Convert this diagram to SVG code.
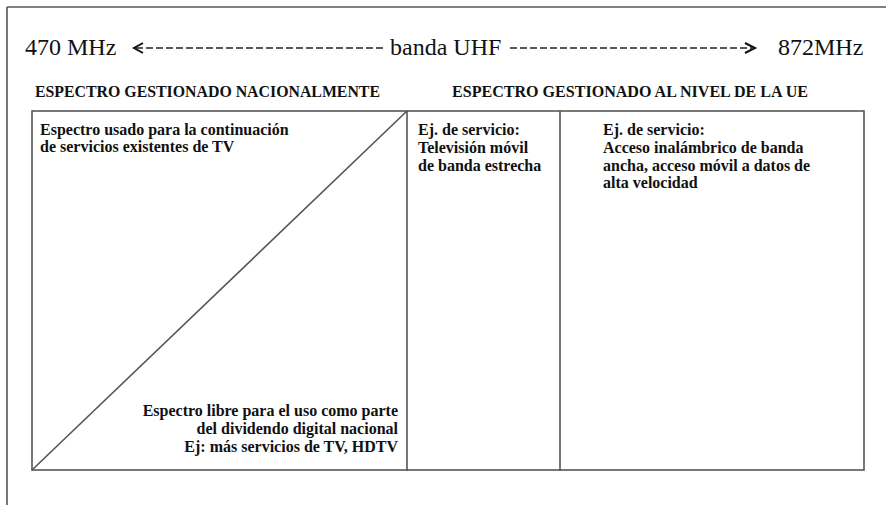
<svg xmlns="http://www.w3.org/2000/svg" width="886" height="505" viewBox="0 0 886 505">
<defs>
<style>
text{font-family:'Liberation Serif','DejaVu Serif',serif;fill:#111;}
.big{font-size:24px;}
.b{font-size:16px;font-weight:bold;}
.ln{stroke:#555;stroke-width:1.6;fill:none;}
.dash{stroke:#222;stroke-width:1.6;stroke-dasharray:7 3;fill:none;}
.head{stroke:#111;stroke-width:2;fill:none;}
</style>
</defs>
<rect x="0" y="0" width="886" height="505" fill="#fff"/>
<g id="frame">
<path class="ln" d="M7,7 H886 M7,7 V505" stroke="#777"/>
</g>
<g id="band" font-family="Liberation Serif, serif">
<text class="big" x="25" y="55">470 MHz</text>
<text class="big" x="390" y="55">banda UHF</text>
<text class="big" x="778" y="55">872MHz</text>
</g>
<g id="connectors">
<path class="dash" d="M136,48 H386"/>
<path class="head" d="M143,43 L134,48 L143,53"/>
<path class="dash" d="M510,48 H752"/>
<path class="head" d="M745,43 L755,48 L745,53"/>
</g>
<g id="headers">
<text class="b" x="35" y="97" textLength="345" lengthAdjust="spacingAndGlyphs">ESPECTRO GESTIONADO NACIONALMENTE</text>
<text class="b" x="452" y="97" textLength="356" lengthAdjust="spacingAndGlyphs">ESPECTRO GESTIONADO AL NIVEL DE LA UE</text>
</g>
<g id="table">
<rect class="ln" x="32" y="111" width="832" height="359"/>
<path class="ln" d="M407,111 V471 M560,111 V471"/>
<path class="ln" d="M32,470 L407,111" stroke="#333" stroke-width="1.4"/>
</g>
<g id="cell-national-top">
<text class="b" x="40" y="135">Espectro usado para la continuación</text>
<text class="b" x="40" y="152">de servicios existentes de TV</text>
</g>
<g id="cell-national-bottom">
<text class="b" x="398" y="416" text-anchor="end">Espectro libre para el uso como parte</text>
<text class="b" x="398" y="434" text-anchor="end">del dividendo digital nacional</text>
<text class="b" x="398" y="452" text-anchor="end">Ej: más servicios de TV, HDTV</text>
</g>
<g id="cell-mobile-tv">
<text class="b" x="418" y="135">Ej. de servicio:</text>
<text class="b" x="418" y="153">Televisión móvil</text>
<text class="b" x="418" y="171">de banda estrecha</text>
</g>
<g id="cell-broadband">
<text class="b" x="603" y="135">Ej. de servicio:</text>
<text class="b" x="603" y="153">Acceso inalámbrico de banda</text>
<text class="b" x="603" y="171">ancha, acceso móvil a datos de</text>
<text class="b" x="603" y="188">alta velocidad</text>
</g>
</svg>
